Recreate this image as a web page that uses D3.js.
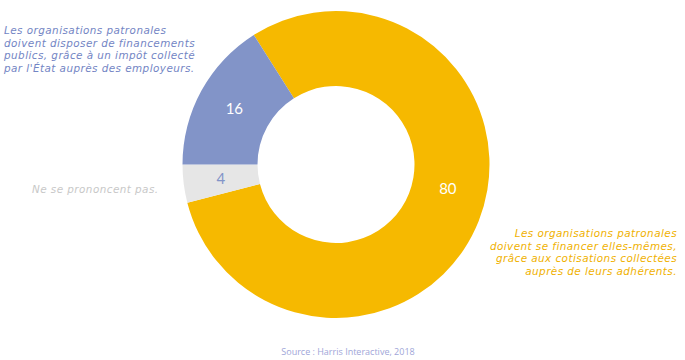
<!DOCTYPE html>
<html>
<head>
<meta charset="utf-8">
<title>Financement des organisations patronales</title>
<style>
  body { margin: 0; background: #fff; }
  text { font-family: 'Open Sans', sans-serif; }
  .note { font-family: 'DejaVu Sans', sans-serif; font-style: italic; font-size: 10.4px; letter-spacing: 0.45px; }
</style>
<script src="https://d3js.org/d3.v7.min.js"></script>
</head>
<body>
<div id="chart"></div>
<script>
  // ******* Data *******
  const categories = ["Financement par les adhérents", "Ne se prononcent pas", "Financement public"];
  const values = [80, 4, 16];
  const colors = ["#f6b900", "#e6e6e6", "#8294c8"];
  const labelColors = ["#ffffff", "#8294c8", "#ffffff"];
  const notes = [
    ["Les organisations patronales", "doivent se financer elles-mêmes,", "grâce aux cotisations collectées", "auprès de leurs adhérents."],
    ["Ne se prononcent pas."],
    ["Les organisations patronales", "doivent disposer de financements", "publics, grâce à un impôt collecté", "par l'État auprès des employeurs."]
  ];
  const source = "Source : Harris Interactive, 2018";

  // ******* Constants *******
  const width = 685, height = 360;
  const cx = 336, cy = 164.5;
  const outerR = 153.5, innerR = 78.5;
  const start = -0.09 * 2 * Math.PI;

  const svg = d3.select("#chart").append("svg")
      .attr("width", width)
      .attr("height", height);

  const pie = d3.pie().sort(null)
      .startAngle(start)
      .endAngle(start + 2 * Math.PI);
  const arc = d3.arc().innerRadius(innerR).outerRadius(outerR);

  const g = svg.append("g").attr("transform", `translate(${cx},${cy})`);
  const arcs = pie(values);

  g.selectAll("path")
    .data(arcs)
    .enter().append("path")
      .attr("d", arc)
      .attr("fill", (d, i) => colors[i]);

  // value labels, the big slice label sits a bit higher than the centroid
  const labelShift = [[4, -18], [0, 0], [0, 0]];
  g.selectAll("text.val")
    .data(arcs)
    .enter().append("text")
      .attr("class", "val")
      .attr("x", (d, i) => arc.centroid(d)[0] + labelShift[i][0])
      .attr("y", (d, i) => arc.centroid(d)[1] + labelShift[i][1])
      .attr("dy", "0.35em")
      .attr("text-anchor", "middle")
      .style("font-family", "Lato, sans-serif")
      .style("font-size", "15px")
      .attr("fill", (d, i) => labelColors[i])
      .text(d => d.data);

  // annotations
  const noteColors = ["#f0b100", "#c8c8c8", "#7385c4"];
  const notePos = [
    { x: 677, y: 237, anchor: "end" },
    { x: 32, y: 193, anchor: "start" },
    { x: 4, y: 34, anchor: "start" }
  ];
  notes.forEach(function(lines, i) {
    const t = svg.append("text")
        .attr("class", "note")
        .attr("text-anchor", notePos[i].anchor)
        .attr("fill", noteColors[i]);
    lines.forEach(function(line, j) {
      t.append("tspan")
        .attr("x", notePos[i].x)
        .attr("y", notePos[i].y + j * 12.5)
        .text(line);
    });
  });

  svg.append("text")
      .attr("x", 348)
      .attr("y", 355)
      .attr("text-anchor", "middle")
      .attr("fill", "#a0a6d8")
      .style("font-size", "9px")
      .text(source);
</script>
</body>
</html>
